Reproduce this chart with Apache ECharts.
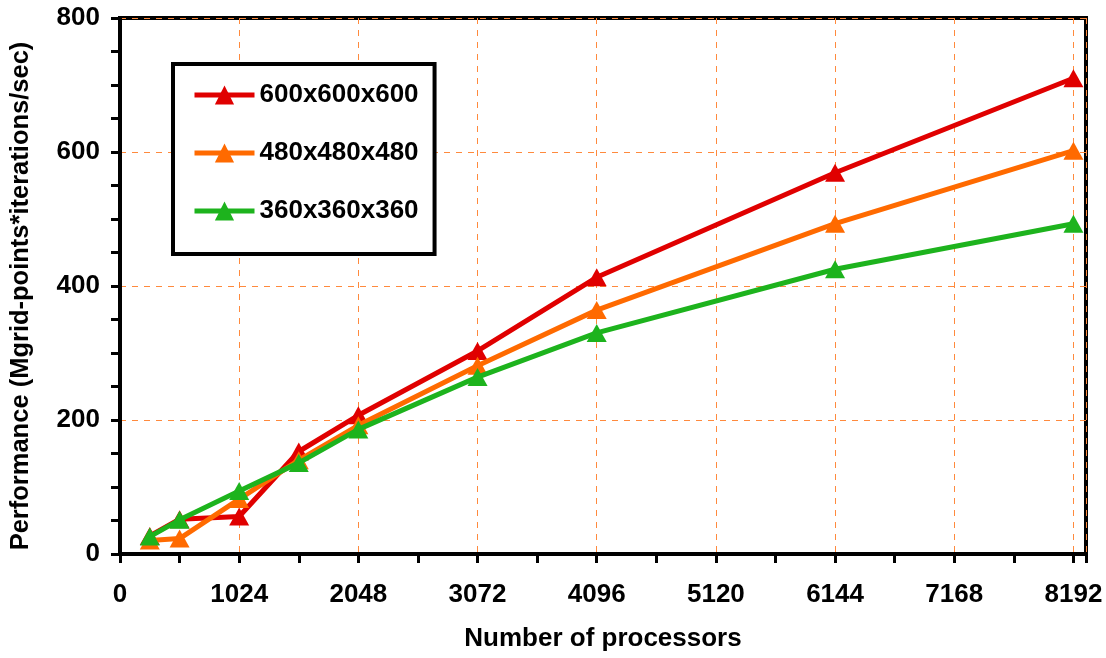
<!DOCTYPE html>
<html><head><meta charset="utf-8">
<script src="https://cdn.jsdelivr.net/npm/echarts@6/dist/echarts.min.js"></script>
<style>html,body{margin:0;padding:0;background:#fff}#c{width:1106px;height:658px}</style>
</head><body><div id="c"></div>
<script>
const processors = [256, 512, 1024, 1536, 2048, 3072, 4096, 6144, 8192];
const seriesNames = ['600x600x600', '480x480x480', '360x360x360'];
const perf600 = [27, 52, 56, 153, 207, 303, 413, 569, 710];
const perf480 = [20, 23, 82, 140, 192, 281, 364, 493, 602];
const perf360 = [26, 51, 94, 136, 186, 264, 330, 425, 493];
const colors = ['#E00000', '#FF6A00', '#1DB31D'];
const xTitle = 'Number of processors';
const yTitle = 'Performance (Mgrid-points*iterations/sec)';

const values = [perf600, perf480, perf360];
const font = 'Liberation Sans, Arial, sans-serif';
const chart = echarts.init(document.getElementById('c'));
const gridLine = {show: true, lineStyle: {color: '#FF8A3D', width: 1, type: [6, 6]}};
chart.setOption({
  animation: false,
  backgroundColor: '#fff',
  grid: {left: 120, right: 20, top: 18, bottom: 104, show: true, borderColor: '#000', borderWidth: 4, backgroundColor: 'transparent'},
  legend: {
    orient: 'vertical', left: 173, top: 64,
    data: seriesNames,
    itemWidth: 60, itemHeight: 24, itemGap: 32,
    padding: [18, 16, 30, 19],
    borderColor: '#000', borderWidth: 4, backgroundColor: '#fff',
    lineStyle: {width: 5},
    textStyle: {fontFamily: font, fontWeight: 'bold', fontSize: 26, color: '#000'},
    z: 10
  },
  xAxis: {
    type: 'value', min: 0, max: 8300, interval: 1024,
    name: xTitle, nameLocation: 'middle', nameGap: 72,
    nameTextStyle: {fontFamily: font, fontWeight: 'bold', fontSize: 26, color: '#000'},
    axisLine: {show: true, lineStyle: {color: '#000', width: 4}},
    axisTick: {show: true, length: 9, lineStyle: {color: '#000', width: 3}},
    minorTick: {show: true, splitNumber: 2, length: 9, lineStyle: {color: '#000', width: 3}},
    axisLabel: {showMaxLabel: false, margin: 28, fontFamily: font, fontWeight: 'bold', fontSize: 26, color: '#000', formatter: v => String(v)},
    splitLine: gridLine
  },
  yAxis: {
    type: 'value', min: 0, max: 800, interval: 200,
    name: yTitle, nameLocation: 'middle', nameGap: 86, nameRotate: 90,
    nameTextStyle: {fontFamily: font, fontWeight: 'bold', fontSize: 25.5, color: '#000', padding: [0, 20, 0, 0]},
    axisLine: {show: true, lineStyle: {color: '#000', width: 4}},
    axisTick: {show: true, length: 9, lineStyle: {color: '#000', width: 3}},
    minorTick: {show: true, splitNumber: 4, length: 9, lineStyle: {color: '#000', width: 3}},
    axisLabel: {margin: 20, fontFamily: font, fontWeight: 'bold', fontSize: 26, color: '#000', formatter: v => String(v)},
    splitLine: gridLine
  },
  series: seriesNames.map((n, i) => ({
    name: n, type: 'line',
    data: processors.map((p, j) => [p, values[i][j]]),
    color: colors[i],
    symbol: 'triangle', symbolSize: [20, 18],
    lineStyle: {width: 5, color: colors[i]},
    itemStyle: {color: colors[i]},
    clip: false,
    z: 5 + i
  }))
});
</script></body></html>
